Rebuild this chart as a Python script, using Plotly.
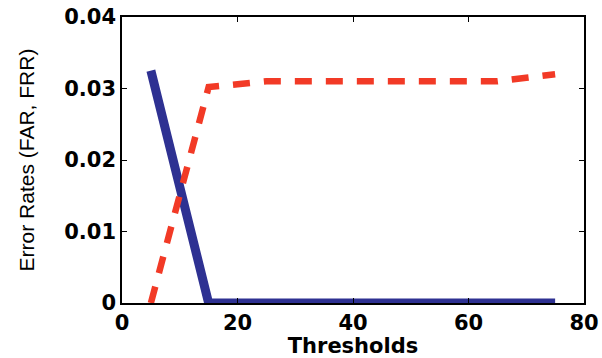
import plotly.graph_objects as go

thresholds = [5, 10, 15, 20, 25, 30, 35, 40, 45, 50, 55, 60, 65, 70, 75]
far = [0.0325, 0.0162, 0.0, 0, 0, 0, 0, 0, 0, 0, 0, 0, 0, 0, 0]
frr = [0.0, 0.0152, 0.0302, 0.0306, 0.031, 0.031, 0.031, 0.031, 0.031, 0.031, 0.031, 0.031, 0.031, 0.0315, 0.032]

fig = go.Figure()
fig.add_trace(go.Scatter(x=thresholds, y=far, mode="lines",
                         line=dict(color="#2e3192", width=9), name="FAR"))
fig.add_trace(go.Scatter(x=thresholds, y=frr, mode="lines",
                         line=dict(color="#f23a26", width=6.5, dash="17px,14px"), name="FRR"))

tick_font = dict(family="DejaVu Sans, sans-serif", size=21, color="black", weight="bold")
fig.update_layout(
    width=602, height=358,
    margin=dict(l=122, r=18, t=17, b=55),
    paper_bgcolor="white", plot_bgcolor="white",
    showlegend=False,
    xaxis=dict(range=[0, 80], tickvals=[0, 20, 40, 60, 80],
               ticks="inside", ticklen=5, tickcolor="black",
               showline=True, linecolor="black", linewidth=1.5, mirror="ticks",
               showgrid=False, zeroline=False, automargin=False,
               tickfont=tick_font,
               title=dict(text="<b>Thresholds</b>",
                          font=dict(family="DejaVu Sans, sans-serif", size=21, color="black"),
                          standoff=0)),
    yaxis=dict(range=[0, 0.04], tickvals=[0, 0.01, 0.02, 0.03, 0.04],
               ticktext=["0", "0.01", "0.02", "0.03", "0.04"],
               ticks="inside", ticklen=5, tickcolor="black",
               showline=True, linecolor="black", linewidth=1.5, mirror="ticks",
               showgrid=False, zeroline=False, automargin=False,
               tickfont=tick_font,
               title=dict(text="Error Rates (FAR, FRR)",
                          font=dict(family="Liberation Sans, Arial", size=21, color="black"),
                          standoff=24)),
)
fig.write_html("out.html", config={"displayModeBar": False},
               post_script="document.body.style.margin='0';")
